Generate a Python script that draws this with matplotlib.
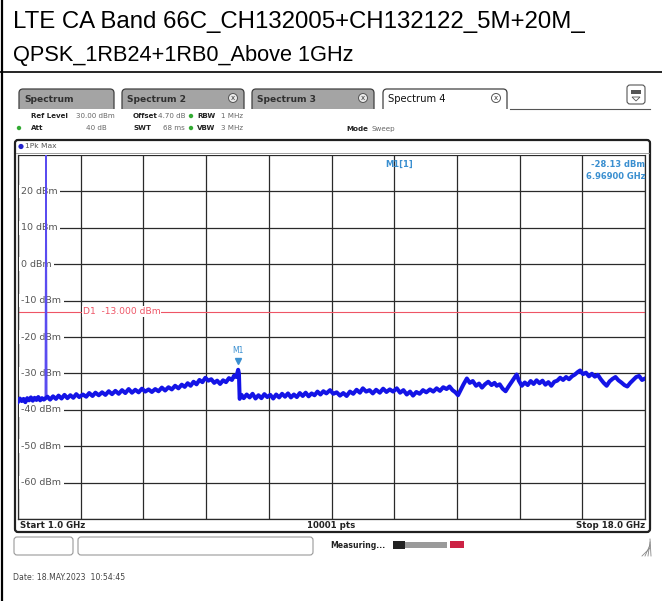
import matplotlib.pyplot as plt
from matplotlib.patches import Rectangle, FancyBboxPatch, Circle, Polygon
import numpy as np

W, H = 662, 601

# peak-hold trace readings: (frequency GHz, level dBm)
trace_points = [
    (1.00, -37.8), (1.05, -36.9), (1.10, -37.6), (1.15, -37.0), (1.20, -37.9), (1.25, -36.8),
    (1.30, -37.4), (1.35, -36.6), (1.40, -37.5), (1.45, -36.7), (1.50, -37.3), (1.55, -36.5),
    (1.60, -37.4), (1.65, -36.8), (1.70, -37.2), (1.80, -36.4), (1.87, -37.2), (1.95, -36.3),
    (2.03, -37.0), (2.10, -36.1), (2.18, -36.9), (2.26, -35.9), (2.34, -36.8), (2.42, -36.0),
    (2.50, -36.7), (2.58, -35.7), (2.66, -36.5), (2.76, -35.8), (2.85, -36.4), (2.93, -35.4),
    (3.02, -36.2), (3.10, -35.3), (3.19, -36.0), (3.28, -35.2), (3.37, -35.9), (3.46, -34.9),
    (3.55, -35.7), (3.64, -34.8), (3.73, -35.6), (3.82, -34.6), (3.91, -35.4), (4.00, -34.3),
    (4.09, -35.3), (4.18, -34.5), (4.27, -35.2), (4.36, -34.2), (4.45, -35.0), (4.54, -34.4),
    (4.63, -35.1), (4.72, -34.3), (4.81, -34.9), (4.90, -33.9), (4.99, -34.7), (5.08, -33.8),
    (5.17, -34.4), (5.26, -33.4), (5.35, -34.1), (5.44, -33.1), (5.52, -33.7), (5.60, -32.7),
    (5.68, -33.4), (5.76, -32.3), (5.84, -33.0), (5.92, -31.8), (6.00, -32.4), (6.08, -31.2),
    (6.16, -32.0), (6.24, -31.6), (6.32, -32.6), (6.40, -32.0), (6.48, -32.9), (6.56, -31.9),
    (6.64, -32.4), (6.72, -31.3), (6.80, -31.8), (6.86, -30.6), (6.92, -31.0), (6.969, -29.0),
    (6.99, -30.0), (7.01, -37.0), (7.06, -35.9), (7.12, -36.8), (7.20, -35.8), (7.28, -36.6),
    (7.36, -35.6), (7.44, -36.9), (7.52, -36.0), (7.60, -36.8), (7.68, -35.7), (7.76, -36.5),
    (7.84, -35.9), (7.92, -36.9), (8.00, -35.8), (8.08, -36.6), (8.16, -35.6), (8.24, -36.4),
    (8.32, -35.5), (8.40, -36.6), (8.48, -35.8), (8.56, -36.5), (8.64, -35.4), (8.72, -36.2),
    (8.80, -35.3), (8.88, -36.3), (8.96, -35.5), (9.04, -36.0), (9.12, -35.0), (9.20, -35.8),
    (9.28, -34.9), (9.36, -35.5), (9.46, -34.6), (9.55, -35.6), (9.64, -35.2), (9.73, -36.1),
    (9.82, -35.4), (9.91, -36.2), (10.00, -35.0), (10.09, -35.6), (10.18, -34.5), (10.27, -35.3),
    (10.35, -34.1), (10.44, -35.0), (10.53, -34.6), (10.62, -35.5), (10.71, -34.5), (10.81, -35.3),
    (10.90, -34.2), (10.99, -35.1), (11.08, -34.4), (11.17, -35.0), (11.27, -34.1), (11.36, -35.3),
    (11.45, -34.6), (11.54, -35.8), (11.63, -35.0), (11.71, -36.1), (11.80, -35.1), (11.89, -35.6),
    (11.98, -34.6), (12.07, -35.2), (12.17, -34.4), (12.26, -35.0), (12.35, -34.1), (12.44, -34.8),
    (12.53, -33.8), (12.62, -34.3), (12.70, -33.6), (12.78, -34.6), (12.86, -35.2), (12.93, -36.0),
    (13.00, -34.6), (13.08, -33.0), (13.17, -31.4), (13.25, -32.6), (13.33, -32.1), (13.42, -33.4),
    (13.50, -32.8), (13.58, -33.9), (13.66, -33.0), (13.75, -32.3), (13.84, -33.2), (13.92, -32.6),
    (13.98, -33.4), (14.06, -33.0), (14.14, -34.2), (14.22, -34.9), (14.30, -33.6), (14.38, -32.4),
    (14.46, -31.2), (14.52, -30.3), (14.58, -32.0), (14.66, -33.4), (14.74, -32.5), (14.82, -33.2),
    (14.90, -32.1), (14.98, -32.9), (15.06, -31.9), (15.14, -32.7), (15.22, -32.0), (15.30, -33.1),
    (15.38, -32.4), (15.46, -33.4), (15.54, -32.3), (15.62, -32.0), (15.70, -31.2), (15.78, -31.8),
    (15.86, -31.0), (15.94, -31.6), (16.02, -30.8), (16.10, -30.3), (16.18, -29.6), (16.24, -29.2),
    (16.32, -30.2), (16.40, -29.8), (16.48, -30.8), (16.56, -30.1), (16.64, -30.9), (16.72, -30.4),
    (16.80, -31.6), (16.88, -32.6), (16.96, -33.4), (17.04, -32.2), (17.12, -31.5), (17.20, -31.0),
    (17.28, -31.9), (17.36, -32.5), (17.44, -33.2), (17.52, -33.6), (17.60, -32.6), (17.68, -31.8),
    (17.76, -31.0), (17.84, -30.7), (17.92, -31.8), (18.00, -31.4),
]
freq_ghz = [p[0] for p in trace_points]
level_dbm = [p[1] for p in trace_points]

# carrier spike
spike_freq = [1.74, 1.76, 1.78]
spike_level = [-37.0, 30.0, -36.6]

marker_freq = 6.969
marker_level = -28.13
display_line = -13.0
y_ticks = [20, 10, 0, -10, -20, -30, -40, -50, -60]
tab_names = ['Spectrum', 'Spectrum 2', 'Spectrum 3', 'Spectrum 4']

plt.rcParams['font.family'] = 'DejaVu Sans'

fig = plt.figure(figsize=(W / 100, H / 100), dpi=100)
fig.patch.set_facecolor('white')


def px(x0, y0, w, h):
    return [x0 / W, 1 - (y0 + h) / H, w / W, h / H]


bg = fig.add_axes([0, 0, 1, 1])
bg.set_xlim(0, W)
bg.set_ylim(H, 0)
bg.axis('off')

# document frame and title
bg.plot([1.5, 1.5], [0, H], color='black', lw=1.6)
bg.plot([0, W], [72, 72], color='black', lw=1.2)
bg.text(13, 22, 'LTE CA Band 66C_CH132005+CH132122_5M+20M_', fontsize=17.3,
        family='Liberation Sans', va='center', ha='left')
bg.text(13, 55, 'QPSK_1RB24+1RB0_Above 1GHz', fontsize=15.7,
        family='Liberation Sans', va='center', ha='left')

# tabs
tab_x = [(16, 117), (119, 247), (249, 377), (380, 510)]
for i, ((x0, x1), name) in enumerate(zip(tab_x, tab_names)):
    active = i == 3
    face = 'white' if active else '#a4a4a4'
    tab = FancyBboxPatch((x0 + 3, 89), x1 - x0 - 6, 24,
                         boxstyle='round,pad=0,rounding_size=4',
                         fc=face, ec='#404040', lw=0.9)
    bg.add_patch(tab)
    if active:
        bg.text(x0 + 8, 99, name, fontsize=7.2, color='#111111', va='center')
    else:
        bg.text(x0 + 8, 99, name, fontsize=6.6, color='#303030',
                weight='bold', va='center')
    if i > 0:
        cx = x1 - 14
        bg.add_patch(Circle((cx, 98), 4.5, fc='#e8e8e8' if not active else 'white',
                            ec='#555555', lw=0.7))
        bg.text(cx, 98.5, 'x', fontsize=5, ha='center', va='center', color='#333333')
bg.add_patch(Rectangle((14, 109), 640, 30, fc='white', ec='none'))
bg.plot([510, 650], [109, 109], color='#555555', lw=0.8)
bg.add_patch(FancyBboxPatch((627, 85), 18, 19, boxstyle='round,pad=0,rounding_size=3',
                            fc='white', ec='#555555', lw=0.8))
bg.add_patch(Rectangle((631, 90), 10, 4, fc='#555555', ec='none'))
bg.add_patch(Polygon([[632, 97], [640, 97], [636, 101]], closed=True,
                     fc='white', ec='#555555', lw=0.6))

# measurement settings
hdr_bold = dict(fontsize=5.1, weight='bold', color='#222222', va='center')
hdr_val = dict(fontsize=5.1, color='#666666', va='center')
bg.text(31, 116, 'Ref Level', **hdr_bold)
bg.text(115, 116, '30.00 dBm', ha='right', **hdr_val)
bg.text(133, 116, 'Offset', **hdr_bold)
bg.text(186, 116, '4.70 dB', ha='right', **hdr_val)
bg.text(197, 116, 'RBW', **hdr_bold)
bg.text(221, 116, '1 MHz', **hdr_val)
bg.text(31, 128, 'Att', **hdr_bold)
bg.text(107, 128, '40 dB', ha='right', **hdr_val)
bg.text(133, 128, 'SWT', **hdr_bold)
bg.text(185, 128, '68 ms', ha='right', **hdr_val)
bg.text(197, 128, 'VBW', **hdr_bold)
bg.text(221, 128, '3 MHz', **hdr_val)
bg.text(346, 129, 'Mode', **hdr_bold)
bg.text(372, 129, 'Sweep', **hdr_val)
for x, y in [(191, 116), (191, 128), (19, 128)]:
    bg.add_patch(Circle((x, y), 2.2, fc='#33aa33', ec='none'))

# diagram frame
bg.add_patch(FancyBboxPatch((15, 140), 635, 392, boxstyle='round,pad=0,rounding_size=3',
                            fc='white', ec='#202020', lw=1.6))
bg.plot([16, 649], [152.5, 152.5], color='#909090', lw=0.6)
bg.add_patch(Circle((21, 146.5), 2.6, fc='#2222cc', ec='none'))
bg.text(25, 146.5, '1Pk Max', fontsize=5.4, color='#555555', va='center')
bg.text(20, 525.5, 'Start 1.0 GHz', fontsize=6.2, weight='bold', color='#222222', va='center')
bg.text(331, 525.5, '10001 pts', fontsize=6.2, weight='bold', color='#222222',
        va='center', ha='center')
bg.text(645, 525.5, 'Stop 18.0 GHz', fontsize=6.2, weight='bold', color='#222222',
        va='center', ha='right')

# status bar
bg.add_patch(FancyBboxPatch((14, 537), 59, 18, boxstyle='round,pad=0,rounding_size=3',
                            fc='white', ec='#999999', lw=0.8))
bg.add_patch(FancyBboxPatch((78, 537), 235, 18, boxstyle='round,pad=0,rounding_size=3',
                            fc='white', ec='#999999', lw=0.8))
bg.text(330, 545, 'Measuring...', fontsize=5.6, weight='bold', color='#222222', va='center')
bg.add_patch(Rectangle((393, 541), 12, 8, fc='#222222', ec='none'))
bg.add_patch(Rectangle((405, 542), 42, 6, fc='#9a9a9a', ec='none'))
bg.add_patch(Rectangle((450, 541), 14, 7, fc='#cc2244', ec='none'))
for k in range(4):
    bg.plot([642 + 3 * k, 650], [556, 548 - 3 * k], color='#888888', lw=0.6)
bg.text(13, 577, 'Date: 18.MAY.2023  10:54:45', fontsize=5.6, color='#444444', va='center')

# spectrum plot
ax = fig.add_axes(px(18, 155, 627, 364))
ax.set_xlim(1, 18)
ax.set_ylim(-70, 30)
ax.set_xticks(np.linspace(1, 18, 11))
ax.set_yticks(np.arange(-70, 31, 10))
ax.grid(True, color='#2a2a2a', lw=0.9)
ax.tick_params(length=0, labelleft=False, labelbottom=False)
for s in ax.spines.values():
    s.set_color('#2a2a2a')
    s.set_linewidth(0.9)
ax.spines['top'].set_visible(False)

for v in y_ticks:
    ax.text(1.09, v, f'{v} dBm', fontsize=6.8, color='#555555', va='center', ha='left',
            bbox=dict(fc='white', ec='none', pad=1.6), zorder=3)

ax.axhline(display_line, color='#ee5566', lw=0.8, zorder=2)
ax.text(2.75, display_line, f'D1  {display_line:.3f} dBm', fontsize=6.6, color='#ee5566',
        va='center', ha='left', bbox=dict(fc='white', ec='none', pad=0.4), zorder=3)

ax.plot(spike_freq, spike_level, color='#5a4cf0', lw=1.1, zorder=4)
ax.plot(freq_ghz, level_dbm, color='#1414e6', lw=2.9, zorder=5)

ax.plot([marker_freq], [marker_level + 1.4], marker='v', ms=5, color='#3a8fd0',
        zorder=6, ls='none')
ax.text(marker_freq, marker_level + 3.2, 'M1', fontsize=5.5, color='#3a8fd0',
        ha='center', va='bottom', zorder=6)

ax.text(10.95, 27.5, 'M1[1]', fontsize=6, color='#3a8fd0', va='center', weight='bold')
ax.text(18.0, 27.5, f'{marker_level:.2f} dBm', fontsize=6, color='#3a8fd0',
        va='center', ha='right', weight='bold')
ax.text(18.0, 24.2, f'{marker_freq:.5f} GHz', fontsize=6, color='#3a8fd0',
        va='center', ha='right', weight='bold')

fig.savefig('out.png', dpi=100, facecolor='white')
